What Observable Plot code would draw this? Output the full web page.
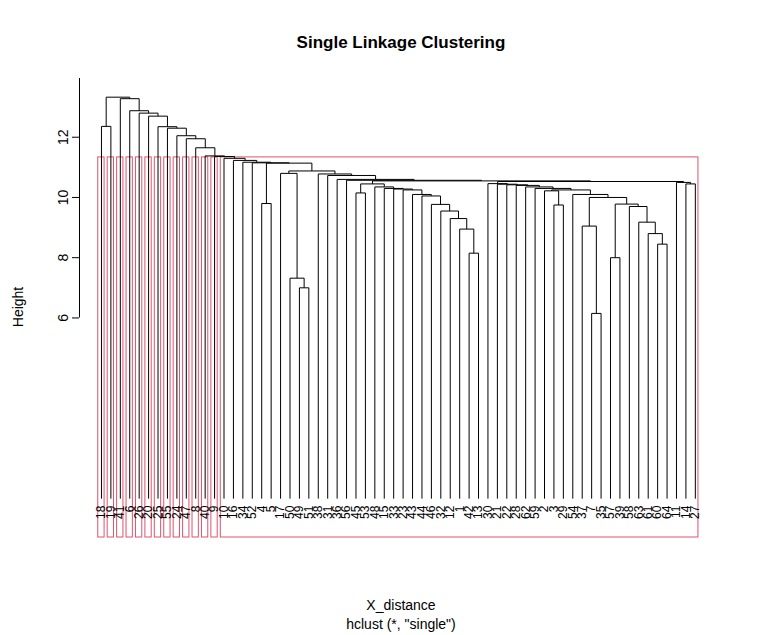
<!DOCTYPE html>
<html>
<head>
<meta charset="utf-8">
<script src="https://cdn.jsdelivr.net/npm/d3@7"></script>
<script src="https://cdn.jsdelivr.net/npm/@observablehq/plot@0.6"></script>
<style>
  body { margin: 0; background: #fff; }
  #chart svg { font-family: "Liberation Sans", Arial, sans-serif; }
</style>
</head>
<body>
<div id="chart"></div>
<script>
// leaf labels in dendrogram order
const labels = [18,19,41,6,26,20,25,55,24,47,8,40,9,
  10,16,34,52,4,5,17,50,49,51,38,31,36,56,45,53,48,15,33,23,43,44,46,32,12,1,42,13,
  30,21,22,28,62,59,2,3,29,54,37,7,35,57,39,58,63,61,60,64,11,14,27]

// merges: [height, left, right]; numbers are leaf positions
const R8 = [8.45, 59, 60], R7 = [8.8, 58, R8], R6 = [9.18, 57, R7], R5 = [9.7, 56, R6]
const R4 = [9.78, [8.0, 54, 55], R5], R3 = [9.05, 51, [6.15, 52, 53]]
const R2 = [10.0, R3, R4], R1 = [10.1, 50, R2]
const Q6 = [10.25, [10.22, 47, [9.75, 48, 49]], R1]
const Q5b = [10.3, 46, Q6], Q5 = [10.35, 45, Q5b], Q4 = [10.4, 44, Q5]
const Q3 = [10.42, 43, Q4], Q2 = [10.44, 42, Q3], Q1 = [10.46, 41, Q2]
const T = [10.5, 61, [10.45, 62, 63]]
const Q = [10.53, Q1, T]
const P10 = [8.95, 38, [8.15, 39, 40]], P9 = [9.3, 37, P10], P8 = [9.55, 36, P9]
const P7 = [9.77, 35, P8], P6 = [10.05, 34, P7], P5 = [10.1, 33, P6]
const P4 = [10.25, 32, P5], P3 = [10.28, 31, P4], P2 = [10.3, 30, P3], P1 = [10.35, 29, P2]
const P = [10.45, [10.15, 27, 28], P1]
const C5 = [10.55, P, Q], C4 = [10.57, 26, C5], C3 = [10.6, 25, C4]
const C2 = [10.73, 24, C3], C = [10.78, 23, C2]
const E = [10.8, 19, [7.32, 20, [7.0, 21, 22]]], D = [10.88, E, C]
const B3 = [11.14, [9.8, 17, 18], D], B2b = [11.15, 16, B3]
const B2 = [11.17, 15, B2b], B1 = [11.23, 14, B2], B0 = [11.3, 13, B1]
const A12 = [11.36, 12, B0], A11 = [11.38, 11, A12], A10 = [11.65, 10, A11]
const A9 = [11.95, 9, A10], A8 = [12.05, 8, A9], A7 = [12.3, 7, A8], A6 = [12.35, 6, A7]
const A5 = [12.7, 5, A6], A4 = [12.8, 4, A5], A3 = [12.88, 3, A4], A2 = [13.28, 2, A3]
const tree = [13.33, [12.36, 0, 1], A2]

// clusters from cutting at h (first leaf, last leaf)
const cutH = 11.33
const clusters = [[0,0],[1,1],[2,2],[3,3],[4,4],[5,5],[6,6],[7,7],[8,8],[9,9],[10,10],[11,11],[12,12],[13,63]]

const yTicks = [6, 8, 10, 12]
const yLo = -1.29, yHi = 13.95

// build segments
const segs = []
function walk(n) {
  if (typeof n === "number") return {x: n, h: 0}
  const a = walk(n[1]), b = walk(n[2])
  segs.push({x1: a.x, y1: a.h, x2: a.x, y2: n[0]})
  segs.push({x1: b.x, y1: b.h, x2: b.x, y2: n[0]})
  segs.push({x1: a.x, y1: n[0], x2: b.x, y2: n[0]})
  return {x: (a.x + b.x) / 2, h: n[0]}
}
walk(tree)

const leaves = labels.map((l, i) => ({i, l: String(l)}))
const boxes = clusters.map(([a, b]) => ({x1: a - 0.34, x2: b + 0.33, y1: yLo, y2: cutH}))

const chart = Plot.plot({
  width: 764,
  height: 635,
  marginLeft: 79,
  marginRight: 39,
  marginTop: 78,
  marginBottom: 98,
  x: {domain: [-2.33, 66.2], axis: null},
  y: {domain: [yLo, yHi], axis: null},
  style: {fontFamily: "Liberation Sans, Arial, sans-serif", background: "#fff"},
  marks: [
    Plot.rect(boxes, {x1: "x1", x2: "x2", y1: "y1", y2: "y2", stroke: "#df536b", fill: "none", strokeWidth: 1}),
    Plot.link(segs, {x1: "x1", y1: "y1", x2: "x2", y2: "y2", stroke: "black", strokeWidth: 1}),
    Plot.text(leaves, {x: "i", y: 0, text: "l", rotate: -90, textAnchor: "end", dy: 7, fontSize: 12, fill: "black"}),
    Plot.ruleX([-2.33], {y1: yTicks[0], y2: yHi, stroke: "black"}),
    Plot.axisY(yTicks, {anchor: "left", tickSize: 7, tickPadding: 5, tickRotate: -90, fontSize: 14, label: null})
  ]
})

const svg = d3.select(chart)
svg.append("text").attr("x", 401).attr("y", 48).attr("text-anchor", "middle")
  .attr("font-size", 17).attr("font-weight", "bold").text("Single Linkage Clustering")
svg.append("text").attr("x", 401).attr("y", 610).attr("text-anchor", "middle")
  .attr("font-size", 14).text("X_distance")
svg.append("text").attr("x", 401).attr("y", 629).attr("text-anchor", "middle")
  .attr("font-size", 14).text('hclust (*, "single")')
svg.append("text").attr("transform", "translate(23,307) rotate(-90)").attr("text-anchor", "middle")
  .attr("font-size", 14).text("Height")

d3.select("#chart").append(() => chart)
</script>
</body>
</html>
